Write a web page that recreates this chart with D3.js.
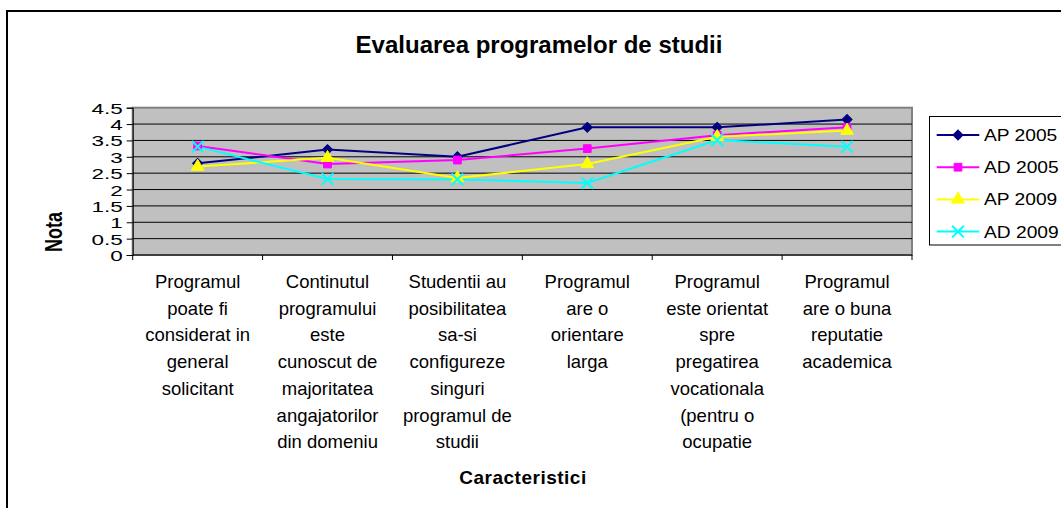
<!DOCTYPE html>
<html>
<head>
<meta charset="utf-8">
<script src="https://cdn.jsdelivr.net/npm/d3@7"></script>
<style>
  html, body { margin: 0; padding: 0; background: #fff; }
  svg { display: block; font-family: "Liberation Sans", Arial, sans-serif; }
</style>
</head>
<body>
<svg id="chart" width="1061" height="508"></svg>
<script>
// ---- data ----
const categories = [
  ["Programul", "poate fi", "considerat in", "general", "solicitant"],
  ["Continutul", "programului", "este", "cunoscut de", "majoritatea", "angajatorilor", "din domeniu"],
  ["Studentii au", "posibilitatea", "sa-si", "configureze", "singuri", "programul de", "studii"],
  ["Programul", "are o", "orientare", "larga"],
  ["Programul", "este orientat", "spre", "pregatirea", "vocationala", "(pentru o", "ocupatie"],
  ["Programul", "are o buna", "reputatie", "academica"]
];
const seriesNames = ["AP 2005", "AD 2005", "AP 2009", "AD 2009"];
const ap2005 = [2.8, 3.22, 3.0, 3.9, 3.9, 4.14];
const ad2005 = [3.33, 2.78, 2.9, 3.25, 3.66, 3.9];
const ap2009 = [2.7, 2.97, 2.35, 2.78, 3.61, 3.8];
const ad2009 = [3.31, 2.32, 2.31, 2.2, 3.51, 3.31];
const yTicks = [0, 0.5, 1, 1.5, 2, 2.5, 3, 3.5, 4, 4.5];
const colors = ["#000080", "#FF00FF", "#FFFF00", "#00FFFF"];
const titleText = "Evaluarea programelor de studii";
const xTitle = "Caracteristici";
const yTitle = "Nota";

const series = [
  { name: seriesNames[0], values: ap2005, color: colors[0], symbol: d3.symbolSquare, size: 50, rot: 45, stroke: false },
  { name: seriesNames[1], values: ad2005, color: colors[1], symbol: d3.symbolSquare, size: 60, rot: 0, stroke: false },
  { name: seriesNames[2], values: ap2009, color: colors[2], symbol: d3.symbolTriangle, size: 70, rot: 0, stroke: false },
  { name: seriesNames[3], values: ad2009, color: colors[3], symbol: d3.symbolTimes, size: 90, rot: 0, stroke: true }
];

// ---- layout ----
const svg = d3.select("#chart");
const plot = { left: 132.7, right: 912, top: 107.7, bottom: 255 };

// chart border
svg.append("rect").attr("x", 7).attr("y", 11).attr("width", 1100).attr("height", 600)
  .attr("fill", "#fff").attr("stroke", "#000").attr("stroke-width", 2);

const x = d3.scaleBand().domain(d3.range(categories.length)).range([plot.left, plot.right]).padding(0);
const y = d3.scaleLinear().domain([0, 4.5]).range([plot.bottom, plot.top]);
const cx = i => x(i) + x.bandwidth() / 2;

// plot background
svg.append("rect").attr("x", plot.left).attr("y", plot.top)
  .attr("width", plot.right - plot.left).attr("height", plot.bottom - plot.top)
  .attr("fill", "#C0C0C0").attr("stroke", "#808080").attr("stroke-width", 2);

// gridlines
svg.append("g").selectAll("line").data(yTicks.filter(t => t > 0 && t < 4.5)).join("line")
  .attr("x1", plot.left).attr("x2", plot.right)
  .attr("y1", d => y(d)).attr("y2", d => y(d))
  .attr("stroke", "#000").attr("stroke-width", 1);

// y axis
const yAxis = svg.append("g").attr("transform", `translate(${plot.left},0)`)
  .call(d3.axisLeft(y).tickValues(yTicks).tickSize(6).tickPadding(0).tickFormat(d => String(d)));
yAxis.select(".domain").attr("stroke", "#000").attr("stroke-width", 1);
yAxis.selectAll(".tick line").attr("stroke", "#000");
yAxis.selectAll(".tick text").attr("x", null).attr("dy", null)
  .attr("font-size", 15.5).attr("fill", "#000")
  .attr("font-family", "Liberation Sans, Arial, sans-serif")
  .attr("text-anchor", "end")
  .attr("transform", "translate(-10,5.5) scale(1.45,1)");

// x axis
const xAxisG = svg.append("g").attr("transform", `translate(0,${plot.bottom})`);
xAxisG.append("line").attr("x1", plot.left).attr("x2", plot.right).attr("y1", 0).attr("y2", 0)
  .attr("stroke", "#000").attr("stroke-width", 1);
const boundaries = d3.range(categories.length + 1).map(i => i < categories.length ? x(i) : plot.right);
xAxisG.selectAll("line.tk").data(boundaries).join("line").attr("class", "tk")
  .attr("x1", d => d).attr("x2", d => d).attr("y1", 0).attr("y2", 5)
  .attr("stroke", "#000");
const labels = xAxisG.selectAll("text.cat").data(categories).join("text").attr("class", "cat")
  .attr("text-anchor", "middle").attr("font-size", 18.5).attr("fill", "#000");
labels.each(function(lines, i) {
  d3.select(this).selectAll("tspan").data(lines).join("tspan")
    .attr("x", cx(i)).attr("y", (d, j) => 33 + j * 26.7).text(d => d);
});

// lines and markers
const line = d3.line().x((d, i) => cx(i)).y(d => y(d));
series.forEach(s => {
  svg.append("path").datum(s.values).attr("d", line)
    .attr("fill", "none").attr("stroke", s.color).attr("stroke-width", 2);
});
series.forEach(s => {
  svg.append("g").selectAll("path").data(s.values).join("path")
    .attr("d", d3.symbol().type(s.symbol).size(s.size))
    .attr("transform", (d, i) => `translate(${cx(i)},${y(d)}) rotate(${s.rot})`)
    .attr("fill", s.stroke ? "none" : s.color)
    .attr("stroke", s.color).attr("stroke-width", s.stroke ? 2 : 1);
});

// title
svg.append("text").attr("x", 539).attr("y", 53).attr("text-anchor", "middle")
  .attr("font-size", 24).attr("font-weight", "bold").text(titleText);

// axis titles
svg.append("text").attr("x", 523).attr("y", 484).attr("text-anchor", "middle")
  .attr("font-size", 19).attr("font-weight", "bold").attr("letter-spacing", 0.5).text(xTitle);
svg.append("text").attr("text-anchor", "middle").attr("font-size", 18).attr("font-weight", "bold")
  .attr("transform", "translate(62,232) scale(1.3,1) rotate(-90)").text(yTitle);

// legend
const lg = svg.append("g");
lg.append("rect").attr("x", 929.5).attr("y", 116.5).attr("width", 200).attr("height", 128.5)
  .attr("fill", "#fff").attr("stroke", "#000").attr("stroke-width", 1);
series.forEach((s, k) => {
  const ly = 135 + k * 32.2;
  lg.append("line").attr("x1", 936.7).attr("x2", 979.3).attr("y1", ly).attr("y2", ly)
    .attr("stroke", s.color).attr("stroke-width", 2);
  lg.append("path").attr("d", d3.symbol().type(s.symbol).size(s.size))
    .attr("transform", `translate(958,${ly}) rotate(${s.rot})`)
    .attr("fill", s.stroke ? "none" : s.color)
    .attr("stroke", s.color).attr("stroke-width", s.stroke ? 2 : 1);
  lg.append("text").attr("font-size", 16).attr("fill", "#000")
    .attr("transform", `translate(984,${ly + 6}) scale(1.2,1)`).text(s.name);
});
</script>
</body>
</html>
